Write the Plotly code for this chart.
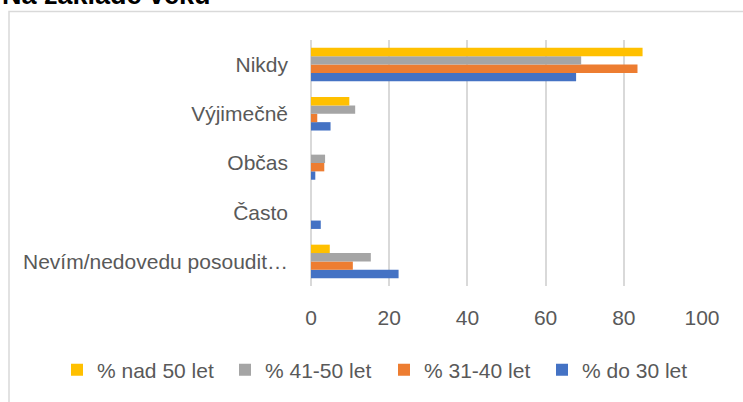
import plotly.graph_objects as go

categories = ["Nikdy", "Výjimečně", "Občas", "Často", "Nevím/nedovedu posoudit…"]
series_names = ["% do 30 let", "% 31-40 let", "% 41-50 let", "% nad 50 let"]
do30 = [67.8, 5.0, 1.1, 2.5, 22.4]
v31_40 = [83.5, 1.6, 3.4, 0, 10.7]
v41_50 = [69.1, 11.3, 3.6, 0, 15.3]
nad50 = [84.8, 9.8, 0, 0, 4.8]
colors = ["#4472C4", "#ED7D31", "#A5A5A5", "#FFC000"]
x_ticks = [0, 20, 40, 60, 80, 100]
title_text = "Na základě věku"

W, H = 743, 402
L, R, T, B = 311, 41, 40, 116
pw, ph = W - L - R, H - T - B

def px_x(p):
    return (p - L) / pw

def px_y(p):
    return (H - B - p) / ph

FONT = "Liberation Sans, Arial, sans-serif"
TXT = "#595959"

# legend text start positions (pixels) for each series, drawn in separate legends
legend_ids = ["legend4", "legend3", "legend2", "legend"]
legend_text_x = {"legend": 99, "legend2": 267, "legend3": 426, "legend4": 584}

fig = go.Figure()
for name, vals, col, lg in zip(series_names, [do30, v31_40, v41_50, nad50], colors, legend_ids):
    fig.add_trace(go.Bar(
        y=categories, x=vals, name=name, orientation="h",
        marker=dict(color=col, line=dict(width=0)),
        legend=lg,
    ))

legend_layouts = {}
for lg, tx in legend_text_x.items():
    legend_layouts[lg] = dict(
        orientation="h",
        x=px_x(tx - 42), xanchor="left", y=px_y(370), yanchor="middle",
        font=dict(family=FONT, size=21, color=TXT),
        itemwidth=30, bgcolor="rgba(0,0,0,0)", borderwidth=0,
    )

fig.update_layout(
    width=W, height=H, autosize=False,
    margin=dict(l=L, r=R, t=T, b=B, pad=0, autoexpand=False),
    paper_bgcolor="white", plot_bgcolor="white",
    barmode="group", bargap=0.32, bargroupgap=0,
    font=dict(family=FONT, size=21, color=TXT),
    showlegend=True,
    xaxis=dict(
        range=[0, 100], tickvals=x_ticks, showgrid=True,
        gridcolor="#d9d9d9", gridwidth=1.5, zeroline=True,
        zerolinecolor="#d9d9d9", zerolinewidth=1.5, showline=False,
        ticks="", ticklabelstandoff=17,
        tickfont=dict(family=FONT, size=21, color=TXT),
        fixedrange=True, automargin=False,
    ),
    yaxis=dict(
        categoryorder="array", categoryarray=list(reversed(categories)),
        showgrid=False, zeroline=False, showline=False, ticks="",
        ticklabelstandoff=22,
        tickfont=dict(family=FONT, size=21, color=TXT),
        fixedrange=True, automargin=False,
    ),
    shapes=[dict(
        type="rect", xref="paper", yref="paper",
        x0=px_x(9), x1=px_x(760), y0=px_y(420), y1=px_y(11.5),
        line=dict(color="#d9d9d9", width=1.5), fillcolor="rgba(0,0,0,0)",
        layer="below",
    )],
    annotations=[dict(
        text="<b>" + title_text + "</b>", xref="paper", yref="paper",
        x=px_x(0), xanchor="left", y=px_y(-5), yanchor="middle",
        showarrow=False, font=dict(family=FONT, size=27, color="black"),
    )],
    **legend_layouts,
)

fig.write_html(
    "out.html",
    config={"displayModeBar": False},
    post_script="document.body.style.margin='0';document.body.style.overflow='hidden';",
)
